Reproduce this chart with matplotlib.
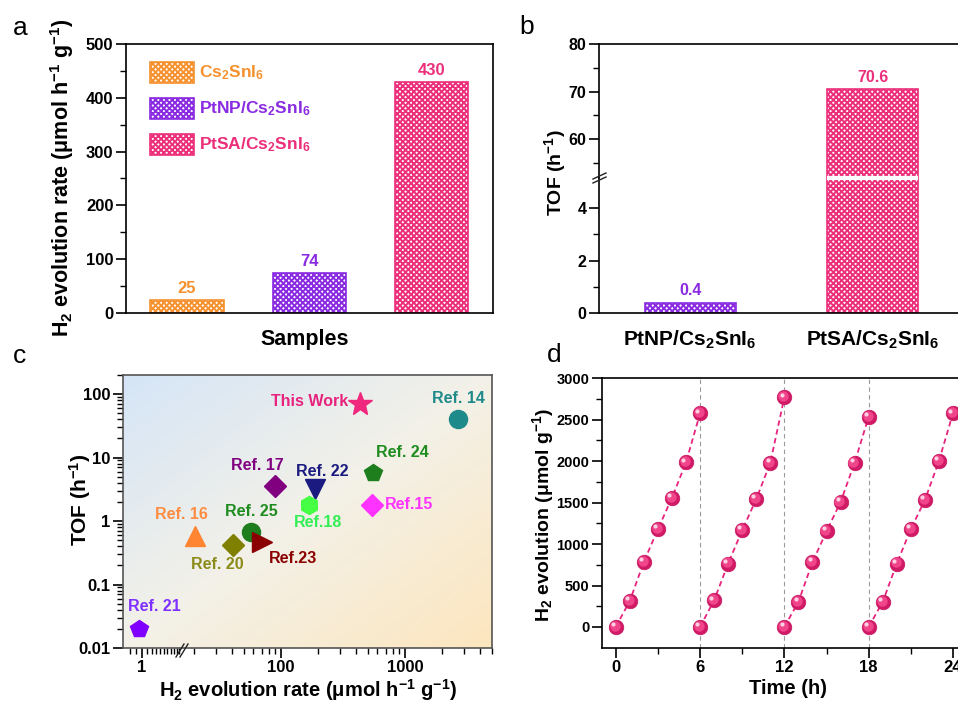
import numpy as np
import matplotlib
matplotlib.use('Agg')
import matplotlib.pyplot as plt
from matplotlib.patches import Rectangle
from matplotlib.lines import Line2D
import matplotlib.transforms as mtransforms

plt.rcParams['font.family'] = ['Liberation Sans', 'DejaVu Sans']
plt.rcParams['font.weight'] = 'bold'
plt.rcParams['mathtext.default'] = 'regular'
plt.rcParams['hatch.linewidth'] = 1.4
plt.rcParams['axes.linewidth'] = 1.2
plt.rcParams['xtick.major.width'] = 1.2
plt.rcParams['ytick.major.width'] = 1.2
plt.rcParams['xtick.minor.width'] = 1.0
plt.rcParams['ytick.minor.width'] = 1.0

# ---------------- data ----------------
samples_a = ['Cs$_2$SnI$_6$', 'PtNP/Cs$_2$SnI$_6$', 'PtSA/Cs$_2$SnI$_6$']
rates_a = [25, 74, 430]
colors_a = ['#F5922F', '#8A2BE2', '#EC2F7B']

samples_b = ['PtNP/Cs$_2$SnI$_6$', 'PtSA/Cs$_2$SnI$_6$']
tof_b = [0.4, 70.6]
colors_b = ['#8A2BE2', '#EC2F7B']

ref_labels = ['This Work', 'Ref. 14', 'Ref. 24', 'Ref.15', 'Ref. 22', 'Ref.18',
              'Ref. 17', 'Ref. 25', 'Ref.23', 'Ref. 20', 'Ref. 16', 'Ref. 21']
ref_rate = [430, 2660, 556, 540, 188, 169, 89.5, 57, 70, 41, 20.2, 0.95]
ref_tof = [70.6, 41, 5.8, 1.8, 3.2, 1.8, 3.6, 0.68, 0.46, 0.42, 0.59, 0.020]
ref_markers = ['*', 'o', 'p', 'D', 'v', 'h', 'D', 'o', '>', 'D', '^', 'p']
ref_colors = ['#F0287D', '#1F8A8A', '#1E7E1E', '#FF33FF', '#1A1A80', '#44FF44',
              '#800080', '#1E7E1E', '#8B0000', '#808000', '#FF8533', '#8000FF']
ref_text_colors = ['#E8237D', '#1F8A8A', '#1E8C1E', '#FF33FF', '#1A1A80', '#33EE55',
                   '#800080', '#1E8C1E', '#8B0000', '#8B8B1A', '#FF8C40', '#7F2FFF']

cycle_times = [[0, 1, 2, 3, 4, 5, 6],
               [6, 7, 8, 9, 10, 11, 12],
               [12, 13, 14, 15, 16, 17, 18],
               [18, 19, 20, 21, 22, 23, 24]]
cycle_h2 = [[0, 314, 785, 1180, 1558, 1985, 2577],
            [0, 322, 765, 1167, 1542, 1981, 2770],
            [0, 302, 781, 1155, 1506, 1981, 2536],
            [0, 302, 765, 1180, 1530, 2001, 2577]]
cycle_bounds = [6, 12, 18]

HATCH = 'xxxxxx'

# ---------------- layout helpers ----------------
W, H = 958, 709
fig = plt.figure(figsize=(W / 100, H / 100), dpi=100)


def box(l, t, r, b):
    return [l / W, 1 - b / H, (r - l) / W, (b - t) / H]


def fp(x, y):
    return (x / W, 1 - y / H)


def style_ticks(ax, size=12, major=7, minor=4):
    ax.tick_params(which='major', direction='out', length=major, labelsize=size, pad=2)
    ax.tick_params(which='minor', direction='out', length=minor)
    for lab in ax.get_xticklabels() + ax.get_yticklabels():
        lab.set_fontweight('bold')


# ---------------- panel a ----------------
axa = fig.add_axes(box(126, 44, 492.5, 313))
xa = np.arange(1, len(rates_a) + 1)
axa.bar(xa, rates_a, width=0.6, color='white', edgecolor=colors_a, hatch=HATCH, linewidth=1.2)
for x, v, c in zip(xa, rates_a, colors_a):
    axa.annotate(str(v), (x, v), xytext=(0, 4), textcoords='offset pixels',
                 ha='center', va='bottom', color=c, fontsize=12, fontweight='bold')
axa.set_xlim(0.5, 3.5)
axa.set_ylim(0, 500)
axa.set_xticks([])
axa.set_yticks([0, 100, 200, 300, 400, 500])
axa.set_yticks(np.arange(50, 500, 100), minor=True)
style_ticks(axa)
# legend (manual)
leg_rows = [0.894, 0.761, 0.627]
for lab, c, yc in zip(samples_a, colors_a, leg_rows):
    axa.add_patch(Rectangle((0.066, yc - 0.039), 0.119, 0.078, transform=axa.transAxes,
                            facecolor='white', edgecolor=c, hatch=HATCH, linewidth=1.2))
    axa.text(0.2, yc, lab, transform=axa.transAxes, color=c, fontsize=12.5,
             fontweight='bold', va='center', ha='left')
fig.text(*fp(62, 178), 'H$_2$ evolution rate (μmol h$^{-1}$ g$^{-1}$)', rotation=90,
         ha='center', va='center', fontsize=15.5, fontweight='bold')
fig.text(*fp(305, 340), 'Samples', ha='center', va='center', fontsize=15.5, fontweight='bold')

# ---------------- panel b (broken axis) ----------------
yb_split = 178
axb_up = fig.add_axes(box(599, 44, 964, yb_split))
axb_lo = fig.add_axes(box(599, yb_split, 964, 313))
xb = np.arange(1, len(tof_b) + 1)
for ax in (axb_up, axb_lo):
    ax.bar(xb, tof_b, width=0.5, color='white', edgecolor=colors_b, hatch=HATCH, linewidth=1.2)
    ax.set_xlim(0.5, 2.5)
axb_up.set_ylim(51.8, 80)
axb_lo.set_ylim(0, 5.15)
axb_up.spines['bottom'].set_visible(False)
axb_lo.spines['top'].set_visible(False)
axb_up.set_xticks([])
axb_lo.set_xticks(xb)
axb_lo.set_xticklabels(samples_b)
axb_up.set_yticks([60, 70, 80])
axb_up.set_yticks([55, 65, 75], minor=True)
axb_lo.set_yticks([0, 2, 4])
axb_lo.set_yticks([1, 3], minor=True)
style_ticks(axb_up, size=11.5)
style_ticks(axb_lo, size=11.5)
axb_lo.tick_params(axis='x', length=0, labelsize=15, pad=11)
for lab in axb_lo.get_xticklabels():
    lab.set_fontweight('bold')
# value labels
axb_lo.annotate('0.4', (xb[0], tof_b[0]), xytext=(0, 5), textcoords='offset pixels',
                ha='center', va='bottom', color=colors_b[0], fontsize=11.5, fontweight='bold')
axb_up.annotate('70.6', (xb[1], tof_b[1]), xytext=(0, 4), textcoords='offset pixels',
                ha='center', va='bottom', color=colors_b[1], fontsize=11.5, fontweight='bold')
# white gap through the tall bar at the break
axb_lo.plot([xb[1] - 0.25, xb[1] + 0.25], [5.15, 5.15], color='white', lw=3,
            clip_on=False, zorder=5, solid_capstyle='butt')
# break marks on the left spine
for dy in (0, 4):
    fig.add_artist(Line2D([593 / W, 606 / W], [1 - (yb_split + 5 - dy) / H, 1 - (yb_split - 1 - dy) / H],
                          color='#222222', lw=1.0))
fig.text(*fp(555, 173), 'TOF (h$^{-1}$)', rotation=90, ha='center', va='center',
         fontsize=14, fontweight='bold')

# ---------------- panel c ----------------
# gradient background
axbg = fig.add_axes(box(123, 375, 492, 648), zorder=0)
nx, ny = 200, 150
gx, gy = np.meshgrid(np.linspace(0, 1, nx), np.linspace(0, 1, ny))
t = np.clip((gx + gy) / 2.0, 0, 1)
c0 = np.array([213, 229, 247]) / 255.0
c1 = np.array([243, 241, 232]) / 255.0
c2 = np.array([253, 230, 190]) / 255.0
img = np.where(t[..., None] < 0.5,
               c0 + (c1 - c0) * (t[..., None] / 0.5),
               c1 + (c2 - c1) * ((t[..., None] - 0.5) / 0.5))
axbg.imshow(img, aspect='auto', extent=[0, 1, 0, 1], interpolation='bilinear')
axbg.set_axis_off()

axc = fig.add_axes(box(123, 375, 492, 648), zorder=1)
axc.set_facecolor('none')
B1, B2 = 2.1, 15.9
D = np.log10(B2) - np.log10(B1)


def fwd(x):
    x = np.asarray(x, dtype=float)
    lx = np.log10(np.clip(x, 1e-12, None))
    return np.where(x <= B1, lx, np.where(x >= B2, lx - D, np.log10(B1)))


def inv(y):
    y = np.asarray(y, dtype=float)
    return np.where(y <= np.log10(B1), 10.0 ** y, 10.0 ** (y + D))


axc.set_xscale('function', functions=(fwd, inv))
axc.set_yscale('log')
offsets = [(-11, 2, 'right'), (1, 20, 'center'), (29, 20, 'center'), (13, 0, 'left'),
           (7, 17, 'center'), (9, -18, 'center'), (-18, 20, 'center'), (1, 20, 'center'),
           (31, -16, 'center'), (-16, -20, 'center'), (-13, 21, 'center'), (15, 22, 'center')]
for lab, xv, yv, mk, mc, tc, (dx, dy, ha) in zip(ref_labels, ref_rate, ref_tof, ref_markers,
                                               ref_colors, ref_text_colors, offsets):
    ms = 18 if mk == '*' else (13 if mk in ('o', 'p', 'h') else 11.5)
    if mk in ('^', 'v', '>'):
        ms = 14
    axc.plot([xv], [yv], marker=mk, ms=ms, color=mc, mec=mc, linestyle='none', zorder=3)
    axc.annotate(lab, (xv, yv), xytext=(dx, dy), textcoords='offset pixels', ha=ha,
                 va='center', color=tc, fontsize=11.5, fontweight='bold')
axc.set_xlim(0.703, 5035)
axc.set_ylim(0.01, 200)
axc.set_xticks([1, 100, 1000])
axc.set_xticklabels(['1', '100', '1000'])
minor_c = [0.8, 0.9, 1.1, 1.2, 1.3, 1.4, 1.5, 1.6, 1.7, 1.8, 1.9, 2.0,
           20, 30, 40, 50, 60, 70, 80, 90, 200, 300, 400, 500, 600, 700, 800, 900,
           2000, 3000, 4000, 5000]
axc.set_xticks(minor_c, minor=True)
axc.set_xticklabels([], minor=True)
axc.set_yticks([0.01, 0.1, 1, 10, 100])
axc.set_yticklabels(['0.01', '0.1', '1', '10', '100'])
style_ticks(axc, size=12)
for sp in axc.spines.values():
    sp.set_color('#555555')
# x-axis break mark
for dx in (0, 4):
    fig.add_artist(Line2D([(176 + dx) / W, (184 + dx) / W], [1 - 657 / H, 1 - 644 / H],
                          color='#222222', lw=1.0, zorder=5))
fig.text(*fp(80, 500), 'TOF (h$^{-1}$)', rotation=90, ha='center', va='center',
         fontsize=15, fontweight='bold')
fig.text(*fp(308, 690), 'H$_2$ evolution rate (μmol h$^{-1}$ g$^{-1}$)', ha='center',
         va='center', fontsize=14.5, fontweight='bold')

# ---------------- panel d ----------------
axd = fig.add_axes(box(601.7, 378.3, 967, 647.7))
for tb in cycle_bounds:
    axd.axvline(tb, color='#9a9a9a', lw=0.8, linestyle=(0, (4, 3)), zorder=1)
base = axd.transData
hl1 = mtransforms.offset_copy(base, fig=fig, x=-0.8, y=0.8, units='points')
hl2 = mtransforms.offset_copy(base, fig=fig, x=-2.0, y=2.0, units='points')
for ts, vs in zip(cycle_times, cycle_h2):
    axd.plot(ts, vs, color='#E8237D', lw=1.3, linestyle=(0, (3, 2)), zorder=2)
    axd.plot(ts, vs, 'o', ms=10.5, color='#D01A66', mec='#C8155E', mew=0.5, zorder=3)
    axd.plot(ts, vs, 'o', ms=7.5, color='#F0458A', mec='none', zorder=4, transform=hl1)
    axd.plot(ts, vs, 'o', ms=3.0, color='#FFD0E2', mec='none', zorder=5, transform=hl2)
axd.set_xlim(-1, 25)
axd.set_ylim(-250, 3000)
axd.set_xticks([0, 6, 12, 18, 24])
axd.set_xticks([3, 9, 15, 21], minor=True)
axd.set_yticks(np.arange(0, 3001, 500))
axd.set_yticks(np.arange(250, 3000, 500), minor=True)
style_ticks(axd, size=12)
axd.tick_params(axis='y', labelsize=10.5)
for lab in axd.get_yticklabels():
    lab.set_fontweight('bold')
fig.text(*fp(788, 688), 'Time (h)', ha='center', va='center', fontsize=14.5, fontweight='bold')
fig.text(*fp(543, 515), 'H$_2$ evolution (μmol g$^{-1}$)', rotation=90, ha='center',
         va='center', fontsize=14, fontweight='bold')

# ---------------- panel letters ----------------
for letter, (x, y) in zip('abcd', [(20, 28), (527, 27), (20, 356), (554, 355)]):
    fig.text(*fp(x, y), letter, ha='center', va='center', fontsize=19, fontweight='normal')

fig.savefig('out.png', dpi=100)
